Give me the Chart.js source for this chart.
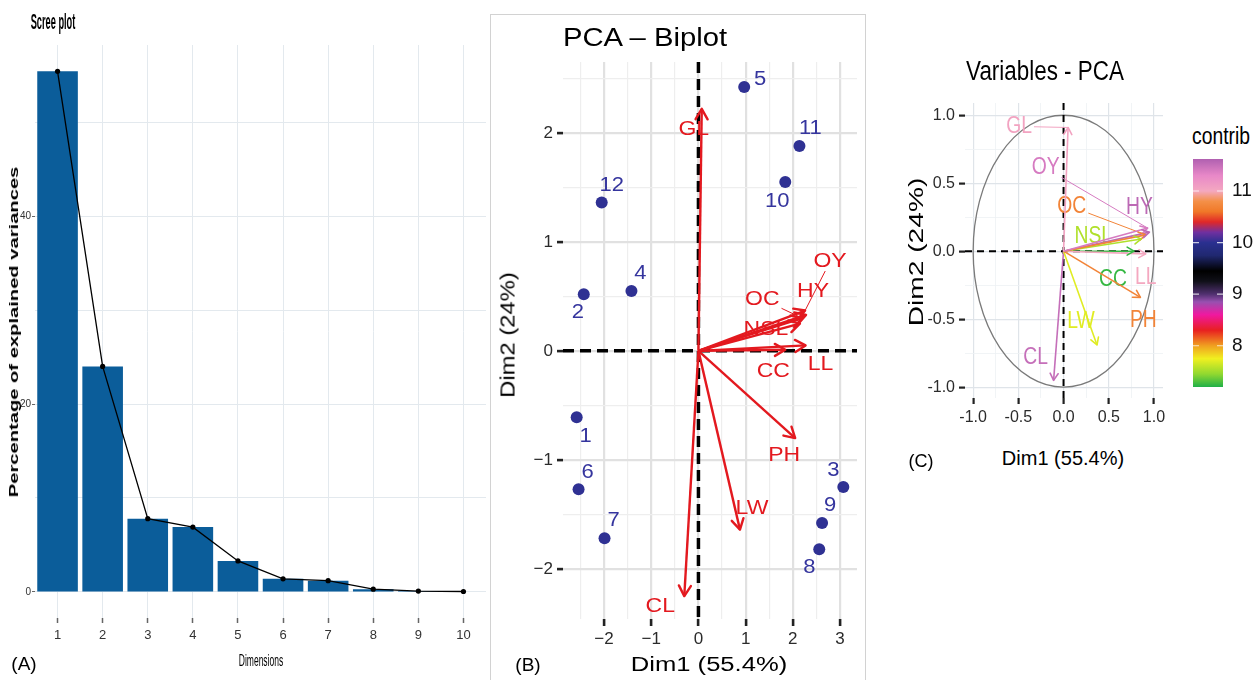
<!DOCTYPE html>
<html lang="en">
<head>
  <meta charset="UTF-8">
  <title>PCA - scree plot, biplot and variables</title>
  <script src="https://cdn.jsdelivr.net/npm/chart.js"></script>
  <style>
    body { margin: 0; background: #fff; font-family: "Liberation Sans", Arial, sans-serif; }
    #wrap { position: relative; width: 1257px; height: 680px; overflow: hidden; background: #fff; }
    canvas { position: absolute; }
    .txt { position: absolute; white-space: nowrap; line-height: 1; color: #000; }
    #frameB { position: absolute; left: 490px; top: 14px; width: 376px; height: 720px; border: 1.5px solid #d2d2d2; box-sizing: border-box; }
  </style>
</head>
<body>
  <div id="wrap">
    <div id="frameB"></div>
    <canvas id="scree" width="490" height="680" style="left:0;top:0;width:490px;height:680px"></canvas>
    <canvas id="biplot" width="380" height="680" style="left:490px;top:0;width:380px;height:680px"></canvas>
    <canvas id="vars" width="300" height="400" style="left:880px;top:40px;width:300px;height:400px"></canvas>
    <canvas id="cbar" width="72" height="250" style="left:1185px;top:150px;width:72px;height:250px"></canvas>
  </div>

  <script>
    // ---- data ----
    const dims = ['1', '2', '3', '4', '5', '6', '7', '8', '9', '10'];
    const explainedVar = [55.4, 24.0, 7.8, 6.9, 3.3, 1.4, 1.2, 0.3, 0.1, 0.05];

    const obsIds = ['1', '2', '3', '4', '5', '6', '7', '8', '9', '10', '11', '12'];
    const obsDim1 = [-2.58, -2.43, 3.07, -1.42, 0.97, -2.54, -1.99, 2.56, 2.62, 1.84, 2.14, -2.05];
    const obsDim2 = [-0.61, 0.52, -1.25, 0.55, 2.42, -1.27, -1.72, -1.82, -1.58, 1.55, 1.88, 1.36];

    const varNames = ['GL', 'OY', 'OC', 'HY', 'NSL', 'LL', 'CC', 'PH', 'LW', 'CL'];
    const varBiDim1 = [0.07, 2.26, 2.20, 2.28, 2.15, 2.27, 1.84, 2.05, 0.88, -0.30];
    const varBiDim2 = [2.22, 0.37, 0.30, 0.33, 0.25, 0.05, 0.01, -0.80, -1.64, -2.25];
    const varCorDim1 = [0.05, 0.93, 0.91, 0.95, 0.86, 0.91, 0.78, 0.85, 0.37, -0.11];
    const varCorDim2 = [0.91, 0.17, 0.12, 0.14, 0.09, -0.02, 0.00, -0.34, -0.69, -0.95];
    const varContrib = [11.05, 11.4, 10.7, 11.55, 7.55, 11.0, 7.25, 10.7, 7.7, 11.5];

    const screeYTicks = [0, 20, 40];
    const biplotTicks = [-2, -1, 0, 1, 2, 3];
    const varsTicks = [-1.0, -0.5, 0.0, 0.5, 1.0];
    const contribTicks = [8, 9, 10, 11];
    const contribRange = [7.2, 11.62];

    // ---- styling / label placement (pixels) ----
    const SANS = '"Liberation Sans", Arial, sans-serif';
    const RED = '#e3191f';
    const BLUE = '#2f3193';
    const contribColors = [
      [7.2, '#20b048'], [7.45, '#90d830'], [7.75, '#f0f020'], [8.0, '#f0a020'], [8.3, '#e82020'],
      [8.6, '#f018a0'], [8.85, '#9850b0'], [9.0, '#503070'], [9.25, '#101018'], [9.45, '#000000'],
      [9.75, '#202870'], [10.0, '#2a3090'], [10.2, '#7030a0'], [10.4, '#e02828'], [10.6, '#f07828'],
      [10.8, '#f49048'], [11.0, '#f4a8c0'], [11.3, '#e888c8'], [11.62, '#b060b0']
    ];
    const obsLabelOffsets = [[9, 19], [-6, 18], [-10, -17], [9, -17], [16, -8], [9, -17],
      [9, -18], [-10, 18], [8, -18], [-8, 20], [11, -17], [10, -17]];
    const biLabelOffsets = [[-8, 21], [25, -49], [-40, -19], [7, -23], [-34, 6], [15, 19],
      [-12, 22], [-11, 17], [12, -21], [-24, 10]];
    const biLabelSegment = [false, true, true, false, false, false, false, false, false, false];
    const varLabelOffsets = [[-49, -1], [-102, -60], [-74, -28], [-10, -24], [-48, -2], [0, 24],
      [-21, 28], [3, 23], [-16, -23], [-18, -23]];
    const varLabelSegment = [true, true, true, false, false, false, false, false, false, false];

    function hexToRgb(h) {
      return [parseInt(h.slice(1, 3), 16), parseInt(h.slice(3, 5), 16), parseInt(h.slice(5, 7), 16)];
    }
    function contribColor(v) {
      for (let i = 1; i < contribColors.length; i++) {
        const [v0, c0] = contribColors[i - 1], [v1, c1] = contribColors[i];
        if (v <= v1) {
          const t = Math.max(0, (v - v0) / (v1 - v0));
          const a = hexToRgb(c0), b = hexToRgb(c1);
          return 'rgb(' + a.map((x, k) => Math.round(x + (b[k] - x) * t)).join(',') + ')';
        }
      }
      return contribColors[contribColors.length - 1][1];
    }

    function stepTicks(lo, hi, step) {
      const out = [];
      for (let v = Math.ceil(lo / step - 1e-9) * step; v <= hi + 1e-9; v += step) out.push(+v.toFixed(4));
      return out;
    }
    const isIn = (arr, v) => arr.some(a => Math.abs(a - v) < 1e-6);
    const minus = v => String(v).replace('-', '\u2212');

    const wrap = document.getElementById('wrap');
    function putText(text, cx, cy, font, opts = {}) {
      const d = document.createElement('div');
      d.className = 'txt';
      d.textContent = text;
      d.style.font = font;
      d.style.left = cx + 'px';
      d.style.top = cy + 'px';
      if (opts.color) d.style.color = opts.color;
      d.style.transform = 'translate(-50%,-50%)' + (opts.rot ? ' rotate(' + opts.rot + 'deg)' : '') +
        ' scaleX(' + (opts.sx || 1) + ')';
      wrap.appendChild(d);
    }

    // ---- plugins ----
    const zeroLines = {
      id: 'zeroLines',
      beforeDatasetsDraw(chart, args, o) {
        const { ctx, chartArea: a, scales: { x, y } } = chart;
        const px = x.getPixelForValue(0), py = y.getPixelForValue(0);
        ctx.save();
        if (o.circle) {
          ctx.strokeStyle = o.circle;
          ctx.lineWidth = 1.3;
          ctx.beginPath();
          ctx.ellipse(px, py, Math.abs(x.getPixelForValue(1) - px), Math.abs(y.getPixelForValue(1) - py), 0, 0, Math.PI * 2);
          ctx.stroke();
        }
        ctx.strokeStyle = '#000';
        ctx.lineWidth = o.width;
        ctx.setLineDash(o.dash);
        ctx.beginPath();
        ctx.moveTo(px, a.top); ctx.lineTo(px, a.bottom);
        ctx.moveTo(a.left, py); ctx.lineTo(a.right, py);
        ctx.stroke();
        ctx.restore();
      }
    };

    const arrowHeads = {
      id: 'arrowHeads',
      afterDatasetsDraw(chart) {
        const c = chart.ctx;
        chart.data.datasets.forEach((ds, i) => {
          if (!ds.arrowHead) return;
          const pts = chart.getDatasetMeta(i).data;
          const a = pts[0], b = pts[pts.length - 1];
          const ang = Math.atan2(b.y - a.y, b.x - a.x);
          const L = ds.arrowHead;
          c.save();
          c.strokeStyle = ds.borderColor;
          c.lineWidth = ds.borderWidth;
          c.lineCap = 'round';
          c.lineJoin = 'round';
          c.beginPath();
          c.moveTo(b.x - L * Math.cos(ang - Math.PI / 6), b.y - L * Math.sin(ang - Math.PI / 6));
          c.lineTo(b.x, b.y);
          c.lineTo(b.x - L * Math.cos(ang + Math.PI / 6), b.y - L * Math.sin(ang + Math.PI / 6));
          c.stroke();
          c.restore();
        });
      }
    };

    // labels are drawn before the arrows so arrowheads sit on top, as in the figure
    const markLabels = {
      id: 'markLabels',
      beforeDatasetsDraw(chart) {
        const c = chart.ctx;
        chart.data.datasets.forEach((ds, i) => {
          const L = ds.markLabels;
          if (!L) return;
          const pts = chart.getDatasetMeta(i).data;
          L.texts.forEach((t, k) => {
            const el = L.atEnd ? pts[pts.length - 1] : pts[k];
            const cx = el.x + L.offsets[k][0], cy = el.y + L.offsets[k][1];
            c.save();
            c.font = L.font;
            if (L.segments && L.segments[k]) {
              const hw = c.measureText(t).width * L.sx / 2 + 2, hh = L.capH / 2 + 2;
              const dx = el.x - cx, dy = el.y - cy;
              const s = Math.min(dx ? hw / Math.abs(dx) : Infinity, dy ? hh / Math.abs(dy) : Infinity);
              c.strokeStyle = L.color;
              c.lineWidth = 1;
              c.beginPath();
              c.moveTo(cx + dx * s, cy + dy * s);
              c.lineTo(el.x, el.y);
              c.stroke();
            }
            c.translate(cx, cy);
            c.scale(L.sx, 1);
            c.fillStyle = L.color;
            c.textAlign = 'center';
            c.textBaseline = 'middle';
            c.fillText(t, 0, 0);
            c.restore();
          });
        });
      }
    };

    const common = {
      responsive: false,
      animation: false,
      events: [],
      plugins: { legend: { display: false }, tooltip: { enabled: false } }
    };

    // ---- (A) scree plot ----
    new Chart(document.getElementById('scree'), {
      data: {
        labels: dims,
        datasets: [
          { type: 'line', data: explainedVar, borderColor: '#000', borderWidth: 1.3,
            pointRadius: 2.6, pointBackgroundColor: '#000', pointBorderWidth: 0, order: 0 },
          { type: 'bar', data: explainedVar, backgroundColor: '#0b5d9a',
            barPercentage: 0.9, categoryPercentage: 1.0, order: 1 }
        ]
      },
      options: {
        ...common,
        layout: { padding: { top: 45, right: 3.5, left: 0, bottom: 0 } },
        scales: {
          x: {
            grid: { offset: false, color: '#e3e9ee', lineWidth: 1, tickColor: '#666', tickLength: 5, tickWidth: 1.5 },
            border: { display: false },
            ticks: { font: { family: SANS, size: 13 }, color: '#333', padding: 5, maxRotation: 0, autoSkip: false },
            afterFit: s => { s.height = 62; }
          },
          y: {
            min: -2.77, max: 58.2,
            afterBuildTicks: s => { s.ticks = stepTicks(s.min, s.max, 10).map(v => ({ value: v })); },
            grid: {
              color: '#e3e9ee', lineWidth: 1,
              tickColor: c => isIn(screeYTicks, c.tick.value) ? '#666' : 'transparent',
              tickLength: 3
            },
            border: { display: false },
            ticks: { callback: v => isIn(screeYTicks, v) ? String(v) : '', font: { family: SANS, size: 10 }, color: '#333', padding: 1 },
            afterFit: s => { s.width = 35; }
          }
        }
      }
    });

    // ---- (B) biplot ----
    const biDatasets = [{
      data: obsDim1.map((x, i) => ({ x, y: obsDim2[i] })),
      pointRadius: 6, backgroundColor: BLUE, borderWidth: 0,
      markLabels: { texts: obsIds, offsets: obsLabelOffsets, font: '20px ' + SANS, sx: 1.1, capH: 15, color: '#35359e' }
    }];
    varNames.forEach((name, i) => {
      biDatasets.push({
        data: [{ x: 0, y: 0 }, { x: varBiDim1[i], y: varBiDim2[i] }],
        showLine: true, pointRadius: 0, borderColor: RED, borderWidth: 2.4, arrowHead: 12,
        markLabels: { texts: [name], offsets: [biLabelOffsets[i]], segments: [biLabelSegment[i]], atEnd: true,
          font: '20px ' + SANS, sx: 1.15, capH: 15, color: RED }
      });
    });

    function axisOpts(min, max, step, majors, fmt, font, st) {
      return {
        type: 'linear', min, max,
        afterBuildTicks: s => { s.ticks = stepTicks(s.min, s.max, step).map(v => ({ value: v })); },
        grid: {
          color: c => isIn(majors, c.tick.value) ? st.major : st.minor,
          lineWidth: c => isIn(majors, c.tick.value) ? st.majorW : st.minorW,
          tickColor: c => isIn(majors, c.tick.value) ? '#222' : 'transparent',
          tickLength: st.tickLen, tickWidth: st.tickW
        },
        border: { display: false },
        ticks: { callback: v => isIn(majors, v) ? fmt(v) : '', font, color: '#2b2b2b', padding: st.pad,
          maxRotation: 0, minRotation: 0, autoSkip: false }
      };
    }

    const bStyle = { major: '#e1e1e1', minor: '#eeeeee', majorW: 2.2, minorW: 1.2, tickLen: 7, tickW: 2.6, pad: 3 };
    const bx = axisOpts(-2.87, 3.36, 0.5, biplotTicks, minus, { family: SANS, size: 17 }, bStyle);
    bx.afterFit = s => { s.height = 61; };
    const by = axisOpts(-2.46, 2.65, 0.5, biplotTicks, minus, { family: SANS, size: 17 }, { ...bStyle, tickLen: 6, pad: 4 });
    by.afterFit = s => { s.width = 73; };

    new Chart(document.getElementById('biplot'), {
      type: 'scatter',
      data: { datasets: biDatasets },
      options: {
        ...common,
        layout: { padding: { top: 62, right: 13, left: 0, bottom: 0 } },
        plugins: { ...common.plugins, zeroLines: { width: 3.5, dash: [11, 6] } },
        scales: { x: bx, y: by }
      },
      plugins: [zeroLines, markLabels, arrowHeads]
    });

    // ---- (C) variables ----
    const varDatasets = varNames.map((name, i) => {
      const col = contribColor(varContrib[i]);
      return {
        data: [{ x: 0, y: 0 }, { x: varCorDim1[i], y: varCorDim2[i] }],
        showLine: true, pointRadius: 0, borderColor: col, borderWidth: 1.6, arrowHead: 8,
        markLabels: { texts: [name], offsets: [varLabelOffsets[i]], segments: [varLabelSegment[i]], atEnd: true,
          font: '23px ' + SANS, sx: 0.84, capH: 16, color: col }
      };
    });
    const fmt1 = v => v.toFixed(1);
    const cStyle = { major: '#dfe4e9', minor: '#eef1f4', majorW: 1.2, minorW: 0.8, tickLen: 6, tickW: 2.2, pad: 4 };
    const cx = axisOpts(-1.09, 1.10, 0.25, varsTicks, fmt1, { family: SANS, size: 16 }, cStyle);
    cx.afterFit = s => { s.height = 42; };
    const cy = axisOpts(-1.08, 1.09, 0.25, varsTicks, fmt1, { family: SANS, size: 16 }, cStyle);
    cy.afterFit = s => { s.width = 85; };

    new Chart(document.getElementById('vars'), {
      type: 'scatter',
      data: { datasets: varDatasets },
      options: {
        ...common,
        layout: { padding: { top: 63, right: 17, left: 0, bottom: 0 } },
        plugins: { ...common.plugins, zeroLines: { width: 2, dash: [7, 5], circle: '#7a7a7a' } },
        scales: { x: cx, y: cy }
      },
      plugins: [zeroLines, markLabels, arrowHeads]
    });

    // ---- contrib colour bar ----
    const barTicks = {
      id: 'barTicks',
      afterDatasetsDraw(chart) {
        const { ctx, scales: { y } } = chart;
        const bar = chart.getDatasetMeta(0).data[0];
        const l = bar.x - bar.width / 2, r = bar.x + bar.width / 2;
        ctx.save();
        ctx.strokeStyle = 'rgba(255,255,255,0.75)';
        ctx.lineWidth = 1.2;
        contribTicks.forEach(v => {
          const py = y.getPixelForValue(v);
          ctx.beginPath();
          ctx.moveTo(l, py); ctx.lineTo(l + 6, py);
          ctx.moveTo(r - 6, py); ctx.lineTo(r, py);
          ctx.stroke();
        });
        ctx.restore();
      }
    };

    new Chart(document.getElementById('cbar'), {
      type: 'bar',
      data: {
        labels: ['contrib'],
        datasets: [{
          data: [contribRange],
          barPercentage: 1, categoryPercentage: 1,
          backgroundColor: ctx => {
            const { chart } = ctx;
            if (!chart.chartArea) return '#888';
            const y = chart.scales.y;
            const y0 = y.getPixelForValue(contribRange[0]), y1 = y.getPixelForValue(contribRange[1]);
            const g = chart.ctx.createLinearGradient(0, y0, 0, y1);
            contribColors.forEach(([v, col]) => {
              g.addColorStop(Math.min(1, Math.max(0, (v - contribRange[0]) / (contribRange[1] - contribRange[0]))), col);
            });
            return g;
          }
        }]
      },
      options: {
        ...common,
        layout: { padding: { top: 9, left: 8, right: 0, bottom: 13 } },
        scales: {
          x: { display: false },
          y: {
            position: 'right', min: contribRange[0], max: contribRange[1],
            afterBuildTicks: s => { s.ticks = contribTicks.map(v => ({ value: v })); },
            grid: { display: false, drawTicks: false },
            border: { display: false },
            ticks: { font: { family: SANS, size: 19 }, color: '#111', padding: 9 },
            afterFit: s => { s.width = 34; s.paddingTop = 0; s.paddingBottom = 0; }
          }
        }
      },
      plugins: [barTicks]
    });

    // ---- titles, axis titles, panel tags ----
    putText('Scree plot', 53, 22, 'bold 22px ' + SANS, { sx: 0.42 });
    putText('Dimensions', 261, 661, '17px ' + SANS, { sx: 0.5 });
    putText('Percentage of explained variances', 14, 332, 'bold 12px ' + SANS, { rot: -90, sx: 1.68 });
    putText('(A)', 24, 664, '19px ' + SANS);

    putText('PCA \u2013 Biplot', 645, 37, '25px ' + SANS, { sx: 1.17 });
    putText('Dim1 (55.4%)', 709, 664, '20px ' + SANS, { sx: 1.28 });
    putText('Dim2 (24%)', 508, 335, '20px ' + SANS, { rot: -90, sx: 1.19 });
    putText('(B)', 528, 665, '19px ' + SANS);

    putText('Variables - PCA', 1045, 71, '27px ' + SANS, { sx: 0.83 });
    putText('Dim1 (55.4%)', 1063, 458, '20px ' + SANS, { sx: 1.0 });
    putText('Dim2 (24%)', 916, 252, '21px ' + SANS, { rot: -90, sx: 1.34 });
    putText('(C)', 921, 461, '18px ' + SANS);
    putText('contrib', 1221, 136, '23px ' + SANS, { sx: 0.84 });
  </script>
</body>
</html>
